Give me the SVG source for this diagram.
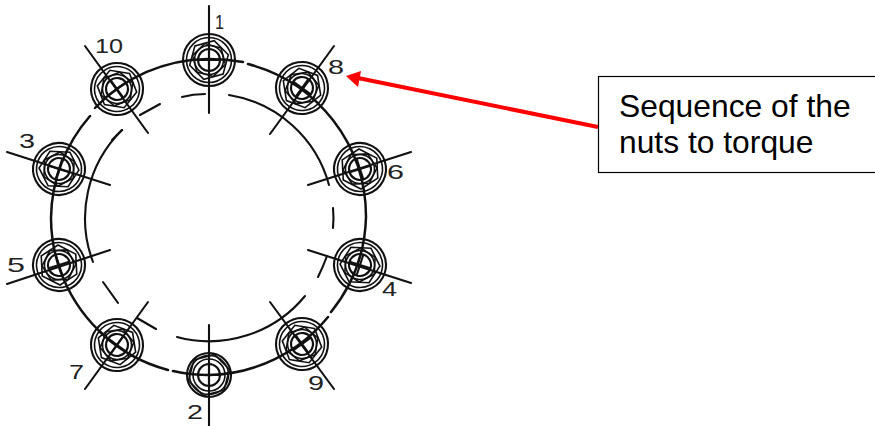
<svg xmlns="http://www.w3.org/2000/svg" xmlns:xlink="http://www.w3.org/1999/xlink" width="875" height="426" viewBox="0 0 875 426">
<style>
.l{fill:none;stroke:#111;stroke-width:2.1;stroke-linecap:round}
.o{stroke-width:2.5}
.h{stroke-width:1.6}
.d{font-family:"Liberation Sans",Arial,sans-serif;font-size:21px;fill:#222}
.t{font-family:"Liberation Sans",Arial,sans-serif;font-size:31.8px;fill:#000}
</style>
<defs>
<g id="bolt" class="l">
<circle r="26"/><circle r="22.5" class="h"/>
<polygon class="h" points="19.3,-5.2 5.2,-19.3 -14.1,-14.1 -19.3,5.2 -5.2,19.3 14.1,14.1"/>
<polygon class="h" points="12,-12 -4.4,-16.4 -16.4,-4.4 -12,12 4.4,16.4 16.4,4.4"/>
<circle r="14.5" class="h"/><circle r="11"/>
<path d="M-10 0H10M0 -10V10"/>
</g>
<g id="boltSmall" class="l">
<circle r="22"/><circle r="19.5" class="h"/>
<polygon class="h" points="20.5,-5.5 5.5,-20.5 -15,-15 -20.5,5.5 -5.5,20.5 15,15"/>
<circle r="16" class="h"/><circle r="11"/>
<path d="M-10 0H10M0 -10V10"/>
</g>
</defs>
<g id="connectors">
<g id="flange-outer" class="l o">
<path d="M90 116A158 158 0 0 0 51 218A158 158 0 0 0 112 342"/>
<path d="M207 59A158 158 0 0 0 95 108"/>
<path d="M209 59Q226 59 243 62"/>
<path d="M248 64A158 158 0 0 1 366 217A158 158 0 0 1 331 312"/>
<path d="M328 317A158 158 0 0 1 209 375A158 158 0 0 1 173 371"/>
<path d="M168 370A158 158 0 0 1 100 332"/>
</g>
<g id="flange-inner" class="l">
<path d="M182 97Q193 94 205 94"/>
<path d="M229 95A124 124 0 0 1 329 185"/>
<path d="M333 208Q334 218 333 228"/>
<path d="M327 256Q323 267 318 277"/>
<path d="M305 296A124 124 0 0 1 177 337"/>
<path d="M156 329L137 318"/>
<path d="M118 303L103 282"/>
<path d="M93 262A124 124 0 0 1 122 130"/>
<path d="M112 140L122 130"/>
<path d="M140 115L160 104"/>
</g>
<g id="center-lines" class="l">
<path d="M209 6V113M85 46L148 133M334 46L270 134M411 152L308 185M7 152L110 185M7 284L110 250M308 250L411 283M85 389L148 302M270 302L334 389M209 325V426"/>
</g>
<g id="leader">
<path d="M598 127L358 78" fill="none" stroke="#f00" stroke-width="4"/>
<polygon points="346,76 361,71 358,87" fill="#f00"/>
</g>
</g>
<g id="nut-1"><use xlink:href="#bolt" href="#bolt" x="209" y="60"/><text class="d" x="215" y="29" textLength="9" lengthAdjust="spacingAndGlyphs">1</text></g>
<g id="nut-2"><use xlink:href="#boltSmall" href="#boltSmall" x="209" y="375"/><text class="d" x="187" y="419" textLength="16" lengthAdjust="spacingAndGlyphs">2</text></g>
<g id="nut-3"><use xlink:href="#bolt" href="#bolt" x="59" y="169" transform="rotate(18 59 169)"/><text class="d" x="19" y="148" textLength="16" lengthAdjust="spacingAndGlyphs">3</text></g>
<g id="nut-4"><use xlink:href="#bolt" href="#bolt" x="360" y="265" transform="rotate(18 360 265)"/><text class="d" x="382" y="296" textLength="15" lengthAdjust="spacingAndGlyphs">4</text></g>
<g id="nut-5"><use xlink:href="#bolt" href="#bolt" x="59" y="265" transform="rotate(-18 59 265)"/><text class="d" x="7" y="272" textLength="18" lengthAdjust="spacingAndGlyphs">5</text></g>
<g id="nut-6"><use xlink:href="#bolt" href="#bolt" x="360" y="169" transform="rotate(-18 360 169)"/><text class="d" x="387" y="179" textLength="17" lengthAdjust="spacingAndGlyphs">6</text></g>
<g id="nut-7"><use xlink:href="#bolt" href="#bolt" x="117" y="345" transform="rotate(36 117 345)"/><text class="d" x="69" y="379" textLength="15" lengthAdjust="spacingAndGlyphs">7</text></g>
<g id="nut-8"><use xlink:href="#bolt" href="#bolt" x="302" y="88" transform="rotate(36 302 88)"/><text class="d" x="328" y="74" textLength="16" lengthAdjust="spacingAndGlyphs">8</text></g>
<g id="nut-9"><use xlink:href="#bolt" href="#bolt" x="302" y="344" transform="rotate(-36 302 344)"/><text class="d" x="308" y="390" textLength="16" lengthAdjust="spacingAndGlyphs">9</text></g>
<g id="nut-10"><use xlink:href="#bolt" href="#bolt" x="117" y="89" transform="rotate(-36 117 89)"/><text class="d" x="95" y="53" textLength="28" lengthAdjust="spacingAndGlyphs">10</text></g>
<g id="note">
<rect x="598.5" y="76.5" width="290" height="96" fill="#fff" stroke="#000" stroke-width="1.2"/>
<text class="t" x="619" y="116.5">Sequence of the</text>
<text class="t" x="619" y="153">nuts to torque</text>
</g>
</svg>
